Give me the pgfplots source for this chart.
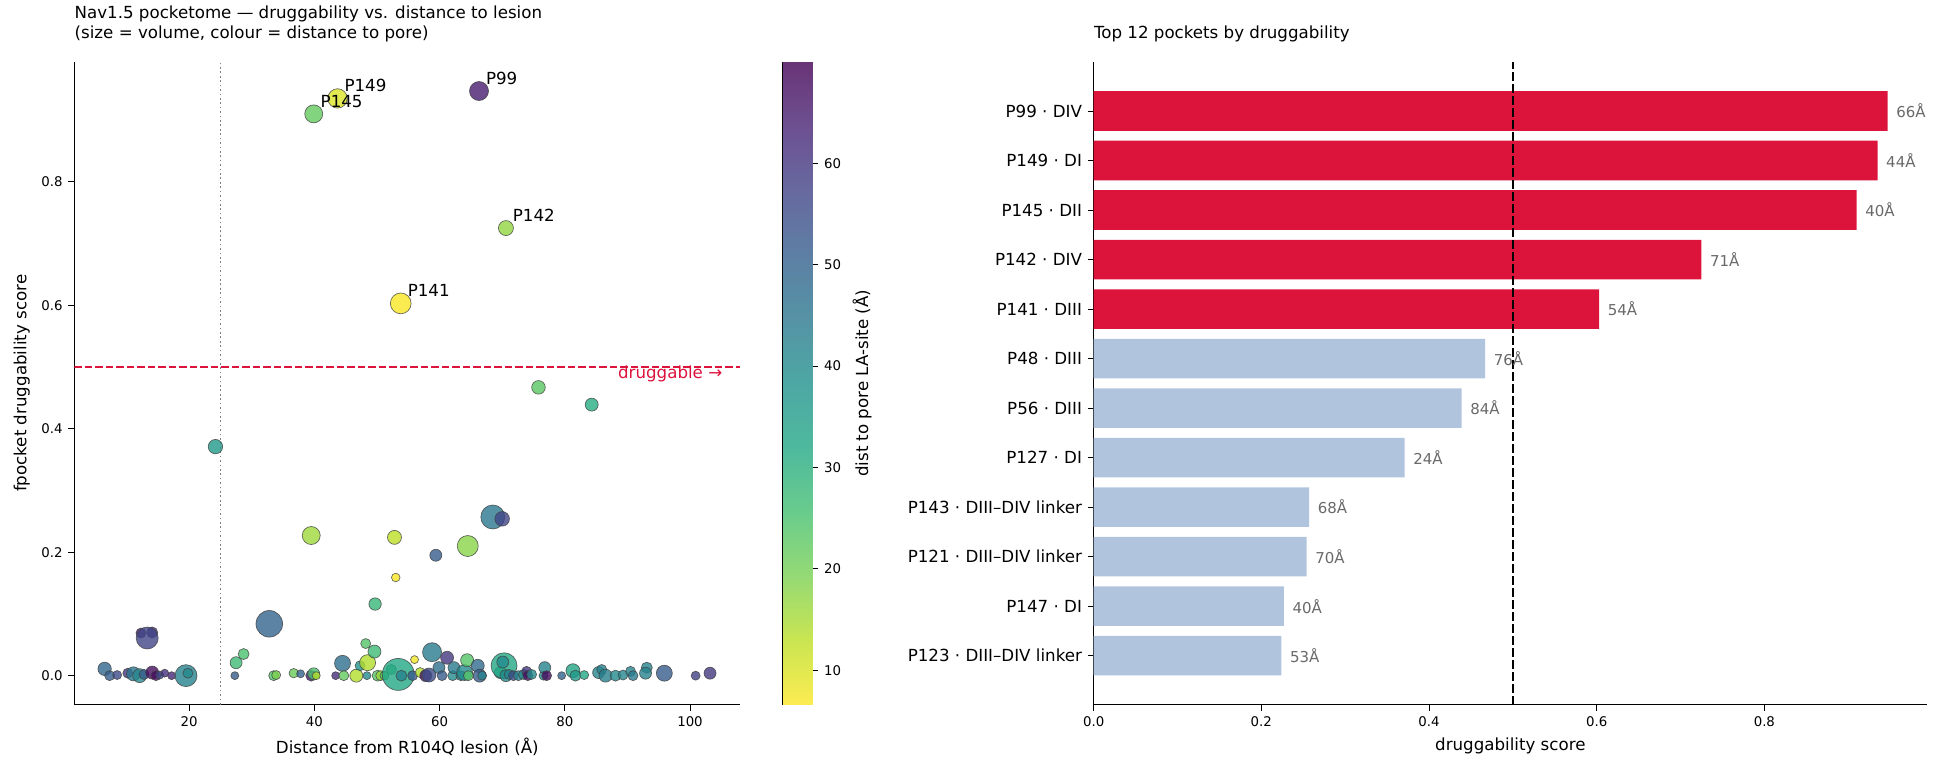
\documentclass[border=0pt]{standalone}
\usepackage{fontspec}
\setmainfont{DejaVu Sans}
\usepackage{pgfplots}
\usepackage{pgfplotstable}
\pgfplotsset{compat=1.18}

\definecolor{crimson}{RGB}{220,20,60}
\definecolor{lsblue}{RGB}{176,196,222}
\definecolor{valgray}{RGB}{105,105,105}

% viridis, reversed (yellow = close to the pore)
\pgfplotsset{
  colormap={viridisr}{rgb255=(253,231,37) rgb255=(189,223,38) rgb255=(122,209,81)
    rgb255=(68,191,112) rgb255=(34,168,132) rgb255=(33,145,140) rgb255=(42,120,142)
    rgb255=(53,95,141) rgb255=(65,68,135) rgb255=(72,36,117) rgb255=(68,1,84)},
  % same map at 80% opacity over white, for the colour bar
  colormap={viridisw}{rgb255=(253,236,81) rgb255=(202,229,81) rgb255=(149,218,116)
    rgb255=(105,204,141) rgb255=(78,185,157) rgb255=(77,167,163) rgb255=(85,147,165)
    rgb255=(93,127,164) rgb255=(103,105,159) rgb255=(109,80,145) rgb255=(105,52,118)},
}

% pockets: distance to lesion, druggability, distance to pore, marker radius (px)
\pgfplotstableread{
x y pore r
66.3 0.947 65 9.5
43.7 0.935 10 9.7
39.9 0.910 22 9.0
70.6 0.725 17 7.5
53.8 0.603 7 10.4
75.8 0.467 23 6.8
84.3 0.439 31 6.5
24.2 0.371 36 7.2
68.5 0.257 45 12.0
70.0 0.254 57 7.3
39.5 0.227 16 9.0
52.8 0.224 13 7.0
64.5 0.210 18 10.5
59.4 0.195 52 6.0
53.0 0.159 7 4.3
49.7 0.116 28 6.2
32.8 0.084 50 13.3
12.3 0.069 64 5.0
14.1 0.070 62 5.5
13.3 0.061 57 11.0
6.5 0.011 49 6.7
7.3 0.000 51 5.0
8.5 0.001 56 4.5
10.2 0.004 60 5.0
11.1 0.003 45 7.0
12.1 0.000 41 7.0
12.8 0.002 52 5.0
14.1 0.005 68 6.5
14.7 0.000 68 5.0
15.3 0.001 55 4.0
16.1 0.004 61 4.0
17.2 0.000 63 4.0
19.5 0.000 42 11.0
19.8 0.004 40 5.0
27.3 0.000 52 4.0
27.5 0.021 27 6.0
28.7 0.035 25 5.5
33.5 0.000 24 5.0
33.9 0.001 19 4.5
36.7 0.004 21 4.7
37.8 0.003 50 4.0
39.5 0.000 66 5.5
39.9 0.003 25 6.0
40.3 0.000 14 4.0
43.4 0.000 62 4.0
44.5 0.020 47 8.0
44.7 0.000 22 5.0
46.7 0.000 14 6.5
47.3 0.016 38 5.0
48.2 0.052 24 5.0
48.5 0.021 14 8.0
49.6 0.039 27 6.5
48.4 0.000 40 4.0
50.1 0.000 23 5.5
50.6 0.000 16 5.0
51.2 0.000 24 4.5
52.3 0.010 28 5.0
53.4 0.002 32 16.0
53.9 0.000 42 5.5
55.7 0.000 52 5.0
56.0 0.026 8 4.0
56.9 0.005 14 5.0
57.8 0.000 67 6.0
58.3 0.001 55 7.0
58.8 0.038 44 9.5
59.9 0.013 47 6.0
60.4 0.000 52 5.0
61.2 0.029 60 6.5
62.1 0.000 40 5.0
62.3 0.013 44 6.0
63.4 0.000 42 5.0
64.0 0.005 40 8.0
64.4 0.025 24 6.5
64.6 0.000 24 5.0
66.1 0.016 48 6.5
66.4 0.000 52 6.5
66.8 0.000 42 4.5
69.7 0.005 38 6.0
70.3 0.016 32 13.0
70.1 0.022 40 6.0
70.6 0.000 40 6.0
71.1 0.002 42 5.0
71.8 0.000 55 5.0
72.6 0.000 42 5.0
73.4 0.002 40 5.0
73.9 0.007 60 5.0
74.1 0.000 68 5.0
74.7 0.002 40 5.0
76.6 0.000 40 4.5
76.8 0.013 42 6.0
77.1 0.000 68 5.0
79.5 0.000 50 4.0
81.3 0.008 33 7.0
81.7 0.000 36 5.5
83.1 0.001 32 4.5
85.4 0.005 41 6.0
85.9 0.010 42 5.0
86.5 0.000 43 6.5
88.1 0.000 40 5.5
89.3 0.001 41 5.0
90.5 0.007 42 5.0
90.9 0.000 44 5.0
93.1 0.013 42 5.5
92.9 0.004 42 6.0
95.9 0.004 52 8.0
100.9 0.000 58 4.5
103.2 0.004 60 6.0
}\pockets

\begin{document}
\begin{tikzpicture}
\useasboundingbox (0,0) rectangle (1165.2pt,464.4pt);

% ---------- left: druggability vs distance to lesion ----------
\begin{axis}[
  at={(44.6pt,41.6pt)}, anchor=south west,
  scale only axis, width=399.6pt, height=385.6pt,
  xmin=1.66, xmax=108.04, ymin=-0.047, ymax=0.994,
  axis lines*=left, axis line style={-, line width=0.6pt},
  tick align=outside, major tick length=3.5pt,
  major tick style={line width=0.6pt, black},
  xtick={20,40,60,80,100}, ytick={0,0.2,0.4,0.6,0.8},
  /pgf/number format/assume math mode=true,
  tick label style={font=\fontsize{8}{9.6}\selectfont},
  yticklabel style={/pgf/number format/.cd, fixed, fixed zerofill, precision=1},
  xlabel={Distance from R104Q lesion (Å)},
  ylabel={fpocket druggability score},
  label style={font=\fontsize{10}{12}\selectfont},
  title={Nav1.5 pocketome — druggability vs. distance to lesion\\(size = volume, colour = distance to pore)},
  title style={at={(0,1)}, anchor=south west, align=left, inner sep=0pt, yshift=6pt,
    font=\fontsize{10}{12}\selectfont},
  colormap name=viridisr, point meta min=6.6, point meta max=70,
]
\addplot[scatter, only marks, mark=*, scatter src=explicit,
  scatter/use mapped color={draw=black!75, fill=mapped color},
  visualization depends on={0.6*\thisrow{r}\as\rr},
  scatter/@pre marker code/.append style={/tikz/mark size=\rr},
  mark options={fill opacity=0.8, draw opacity=0.8, line width=0.4pt}]
  table[x=x, y=y, meta=pore]{\pockets};

% names of the druggable pockets
\addplot[only marks, mark=none, nodes near coords, point meta=explicit symbolic,
  every node near coord/.append style={anchor=base west, xshift=4pt, yshift=4pt,
    inner sep=0pt, font=\fontsize{10}{12}\selectfont, black}]
  coordinates {(66.3,0.947)[P99] (43.7,0.935)[P149] (39.9,0.910)[P145]
               (70.6,0.725)[P142] (53.8,0.603)[P141]};

% lesion cut-off and druggability threshold
\addplot[gray, line width=0.9pt, dash pattern=on 1pt off 1.65pt]
  coordinates {(25,-0.047) (25,0.994)};
\addplot[crimson, line width=1.2pt, dash pattern=on 4.4pt off 1.9pt]
  coordinates {(1.66,0.5) (108.04,0.5)};
\node[anchor=base east, inner sep=0pt, text=crimson, font=\fontsize{10}{12}\selectfont,
  yshift=-7pt] at (axis cs:105.2,0.5) {druggable →};
\end{axis}

% ---------- colour bar: distance to pore ----------
\begin{axis}[
  at={(469.6pt,41.6pt)}, anchor=south west,
  scale only axis, width=17.9pt, height=385.6pt,
  xmin=0, xmax=1, ymin=6.6, ymax=70,
  axis line style={line width=0.6pt},
  xtick=\empty, ytick={10,20,30,40,50,60},
  ytick pos=right, yticklabel pos=right,
  tick align=outside, major tick length=3.5pt,
  major tick style={line width=0.6pt, black},
  /pgf/number format/assume math mode=true,
  tick label style={font=\fontsize{8}{9.6}\selectfont},
  ylabel={dist to pore LA-site (Å)},
  ylabel style={font=\fontsize{10}{12}\selectfont},
  colormap name=viridisw, point meta min=6.6, point meta max=70,
]
\addplot[surf, shader=interp, mesh/cols=2, point meta=y]
  coordinates {(0,6.6) (1,6.6) (0,70) (1,70)};
\end{axis}

% ---------- right: top 12 pockets ----------
\begin{axis}[
  at={(656.2pt,41.6pt)}, anchor=south west,
  scale only axis, width=500pt, height=385.6pt,
  xmin=0, xmax=0.994, ymin=-0.99, ymax=11.99,
  axis lines*=left, axis line style={-, line width=0.6pt},
  tick align=outside, major tick length=3.5pt,
  major tick style={line width=0.6pt, black},
  xtick={0,0.2,0.4,0.6,0.8},
  /pgf/number format/assume math mode=true,
  xticklabel style={font=\fontsize{8}{9.6}\selectfont,
    /pgf/number format/.cd, fixed, fixed zerofill, precision=1},
  ytick={0,1,...,11},
  yticklabels={P123 · DIII–DIV linker, P147 · DI, P121 · DIII–DIV linker,
    P143 · DIII–DIV linker, P127 · DI, P56 · DIII, P48 · DIII, P141 · DIII,
    P142 · DIV, P145 · DII, P149 · DI, P99 · DIV},
  yticklabel style={font=\fontsize{10}{12}\selectfont},
  xlabel={druggability score},
  label style={font=\fontsize{10}{12}\selectfont},
  title={Top 12 pockets by druggability},
  title style={at={(0,1)}, anchor=base west, inner sep=0pt, yshift=8pt,
    font=\fontsize{10}{12}\selectfont},
  nodes near coords style={anchor=west, xshift=5pt, inner sep=0pt,
    text=valgray, font=\fontsize{9}{10.8}\selectfont},
]
\addplot[xbar, bar width=0.8, fill=crimson, draw=none,
  nodes near coords, point meta=explicit symbolic]
  coordinates {(0.947,11)[66Å] (0.935,10)[44Å] (0.910,9)[40Å]
               (0.725,8)[71Å] (0.603,7)[54Å]};
\addplot[xbar, bar width=0.8, fill=lsblue, draw=none,
  nodes near coords, point meta=explicit symbolic]
  coordinates {(0.467,6)[76Å] (0.439,5)[84Å] (0.371,4)[24Å] (0.257,3)[68Å]
               (0.254,2)[70Å] (0.227,1)[40Å] (0.224,0)[53Å]};
\addplot[black, line width=1.2pt, dash pattern=on 5pt off 2.2pt]
  coordinates {(0.5,-0.99) (0.5,11.99)};
\end{axis}
\end{tikzpicture}
\end{document}
